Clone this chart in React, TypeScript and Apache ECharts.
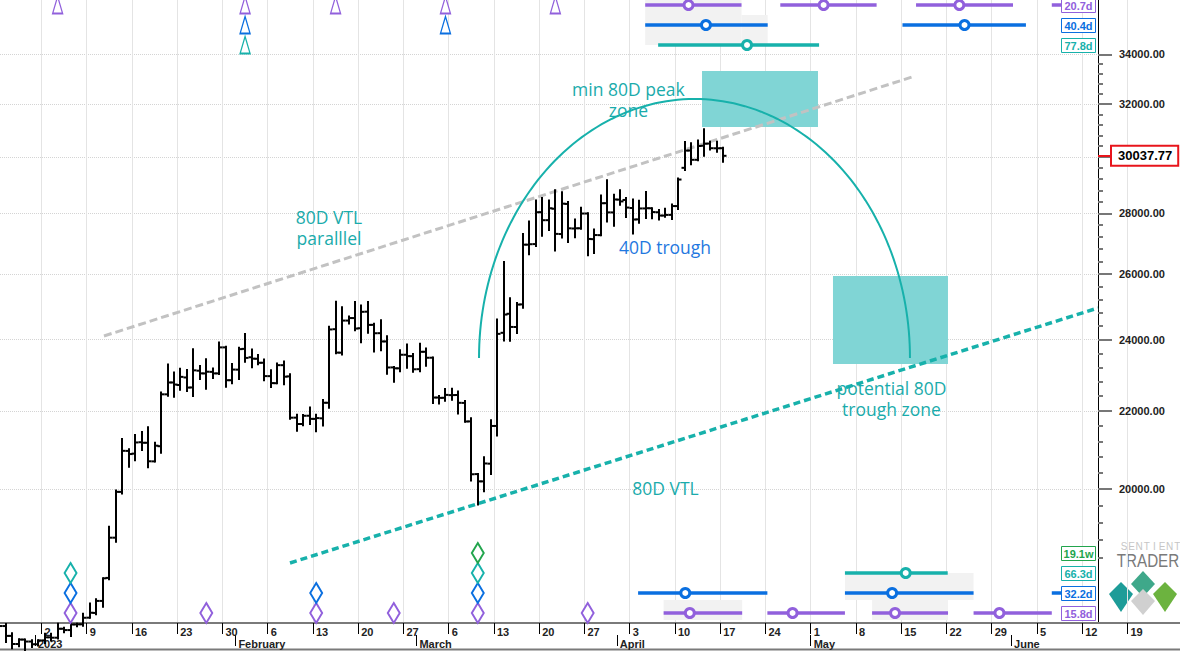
import React, { useEffect, useRef } from "react";
import * as echarts from "echarts";

// ---------------- price bars (daily, first bar 2022-12-26) ----------------
// day numbers are counted from 2023-01-01 (= day 0)
const FIRST_BAR_DAY = -6;
const OPEN = [
  16842, 16919, 16717, 16552, 16642, 16602, 16547, 16625, 16688, 16680, 16863, 16836, 16952, 16955,
  17093, 17192, 17446, 17943, 18846, 19930, 20952, 20882, 21175, 21161, 20686, 21072, 22450, 22777, 22707, 22917, 22639, 23107, 23030, 23074, 23031, 23774, 22840,
  23137, 23731, 23489, 23446, 23332, 22954, 22757, 23263, 22947, 21820, 21651, 21871, 21787, 21802, 22220, 24308, 23621, 24565, 24640, 24336, 24833, 24437, 24190, 23947, 23200, 23174, 23561, 23521,
  23150, 23647, 23476, 22362, 22355, 22428, 22431, 22216, 21720, 20367, 20187, 20628, 21600, 24201, 24770, 24373, 25055, 26950, 26969, 28041, 27768, 28158, 27302, 28324, 27487, 27495, 27994, 27132, 27265, 28350, 28032,
  28473, 28462, 28183, 27795, 28169, 28175, 28038, 27925, 27948, 28250, 29600, 30231, 29892, 30409, 30490, 30315, 30318,
];
const HIGH = [
  16920, 16963, 16773, 16651, 16643, 16629, 16630, 16760, 16760, 16965, 16884, 17042, 16965, 17176,
  17389, 17484, 17934, 19099, 19964, 21259, 20994, 21360, 21438, 21564, 21163, 22500, 23282, 23056, 23165, 23127, 23722, 23237, 23430, 23166, 23919, 23789, 23299,
  23764, 24167, 23715, 23556, 23423, 23117, 23310, 23367, 23005, 21895, 21891, 22090, 21898, 22293, 24380, 25134, 24970, 24685, 25127, 25020, 25126, 24472, 24572, 24103, 23212, 23689, 23857, 23585,
  23880, 23739, 23479, 22405, 22599, 22603, 22527, 22268, 21802, 20370, 20792, 21750, 24600, 26386, 25240, 25100, 27300, 27725, 28440, 28527, 28439, 28803, 28729, 28388, 27792, 28194, 28000, 27457, 28619, 29159, 28639,
  28802, 28529, 28474, 28433, 28739, 28178, 28111, 28159, 28300, 29220, 30550, 30500, 30600, 31030, 30560, 30555, 30330,
];
const LOW = [
  16791, 16592, 16468, 16508, 16360, 16490, 16521, 16572, 16622, 16663, 16791, 16714, 16914, 16925,
  17093, 17162, 17321, 17911, 18753, 19889, 20551, 20715, 20978, 20541, 20685, 20906, 22412, 22387, 22575, 22544, 22406, 22872, 22600, 22904, 23012, 22657, 22755,
  22877, 23363, 23204, 23291, 22841, 22654, 22756, 22731, 21789, 21474, 21619, 21650, 21460, 21615, 22082, 23602, 23569, 24481, 24274, 23927, 24200, 23658, 23693, 23018, 22797, 23088, 23191, 23077,
  23088, 23245, 22213, 22198, 22276, 22304, 21929, 21708, 20210, 19628, 19945, 20367, 21350, 23976, 23964, 24193, 24955, 26636, 26907, 27243, 27439, 26760, 27183, 27040, 27196, 27475, 26606, 26678, 27259, 27720, 27583,
  28297, 27872, 27323, 27682, 27844, 27835, 27794, 27884, 27807, 28150, 29520, 29726, 29878, 30044, 30267, 30184, 29820,
];
const CLOSE = [
  16919, 16717, 16552, 16642, 16602, 16547, 16625, 16688, 16680, 16863, 16836, 16951, 16955, 17091,
  17196, 17446, 17934, 18846, 19930, 20954, 20871, 21169, 21161, 20688, 21086, 22450, 22777, 22720, 22934, 22636, 23117, 23032, 23078, 23031, 23774, 22840, 23139,
  23723, 23471, 23449, 23331, 22955, 22760, 23264, 22939, 21819, 21651, 21870, 21788, 21808, 22220, 24300, 23623, 24565, 24641, 24327, 24829, 24436, 24188, 23947, 23198, 23175, 23561, 23522, 23147,
  23646, 23475, 22362, 22353, 22435, 22429, 22219, 21718, 20363, 20187, 20633, 21600, 24170, 24746, 24375, 25050, 26950, 26965, 28038, 27767, 28175, 27307, 28333, 27493, 27494, 27994, 27139, 27268, 28348, 28033, 28478,
  28411, 28199, 27790, 28168, 28177, 28044, 27925, 27947, 28250, 29180, 30230, 29892, 30399, 30485, 30318, 30315, 30037.77,
];
const LAST_PRICE = 30037.77;

// ---------------- axes ----------------
const WEEK_TICKS = [1, 8, 15, 22, 29, 36, 43, 50, 57, 64, 71, 78, 85, 92, 99, 106, 113, 120, 127, 134, 141, 148, 155, 162, 169];
const MONTH_TICKS = [0, 31, 59, 90, 120, 151];
const MONTH_LABELS = ["2023", "February", "March", "April", "May", "June"];
const PRICE_MAJOR_TICKS = [20000, 22000, 24000, 26000, 28000, 30000, 32000, 34000];
const PRICE_LABELS = [20000, 22000, 24000, 26000, 28000, 32000, 34000];
const PRICE_MINOR_TICKS = [
  18400, 18800, 19200, 19600, 20400, 20800, 21200, 21600, 22400, 22800, 23200, 23600, 24400, 24800, 25200, 25600,
  26400, 26800, 27200, 27600, 28400, 28800, 29200, 29600, 30400, 30800, 31200, 31600, 32400, 32800, 33200, 33600,
];
const VIEW_START_DAY = -5.415;
const VIEW_END_DAY = 177.135;
const PRICE_MIN = 16982;
const PRICE_MAX = 36330;

// ---------------- trend lines / zones / arc ----------------
const VTL_PARALLEL = [[10.67, 24107], [135.67, 33070]];
const VTL_80D = [[39.45, 18273], [164.45, 24946]];
// [startDay, endDay, lowPrice, highPrice]
const ZONES = [
  [103.19, 121.13, 31114, 33314],
  [123.45, 141.24, 23296, 25938],
];
const ARC_START_DAY = 68.69;
const ARC_END_DAY = 135.36;
const ARC_BASE_PRICE = 23468;
const ARC_PEAK_PRICE = 32194;

// ---------------- text notes ----------------
const NOTE_TEXT = ["min 80D peak\nzone", "80D VTL\nparalllel", "potential 80D\ntrough zone", "80D VTL", "40D trough"];
const NOTE_DAY = [91.8, 45.48, 132.5, 97.54, 97.46];
const NOTE_PRICE = [32176, 27522, 22336, 20024, 26874];
const NOTE_IS_BLUE = [false, false, false, false, true];

// ---------------- cycle rows (lanes: 0 = bottom of plot) ----------------
const LANE_TOP_PURPLE = 30.9;
const LANE_TOP_BLUE = 29.9;
const LANE_TOP_TEAL = 28.9;
const LANE_BOT_GREEN = 3.5;
const LANE_BOT_TEAL = 2.5;
const LANE_BOT_BLUE = 1.5;
const LANE_BOT_PURPLE = 0.5;

// [startDay, endDay, markerDay|null]
const TOP_PURPLE_CYCLE = [[94.4, 109.3, 101.1], [115.3, 130.2, 122.0], [136.3, 151.3, 143.0], [157.3, 162.5, null]];
const TOP_BLUE_CYCLE = [[94.4, 113.35, 103.8], [134.2, 153.3, 143.8]];
const TOP_TEAL_CYCLE = [[96.4, 121.3, 110.15]];
const BOT_TEAL_CYCLE = [[125.3, 141.2, 134.7]];
const BOT_BLUE_CYCLE = [[93.3, 113.3, 100.6], [125.3, 145.2, 132.6], [157.3, 162.5, null]];
const BOT_PURPLE_CYCLE = [[97.25, 109.4, 101.3], [113.3, 125.3, 117.2], [129.5, 141.25, 133.05], [145.2, 157.3, 149.2]];
// [startDay, endDay, laneLow, laneHigh]
const CYCLE_SHADES = [
  [94.4, 109.3, 28.9, 31.2],
  [109.3, 113.35, 28.9, 30.4],
  [97.25, 109.4, 0.15, 1.15],
  [125.3, 145.2, 1.15, 2.5],
  [129.5, 141.25, 0.15, 1.15],
];
const CYCLE_LABEL_TEXT = ["20.7d", "40.4d", "77.8d", "19.1w", "66.3d", "32.2d", "15.8d"];
const CYCLE_LABEL_LANE = [LANE_TOP_PURPLE, LANE_TOP_BLUE, LANE_TOP_TEAL, LANE_BOT_GREEN, LANE_BOT_TEAL, LANE_BOT_BLUE, LANE_BOT_PURPLE];

// signal markers (day numbers)
const TRI_PURPLE = [3, 32, 46, 63, 80];
const TRI_BLUE = [32, 63];
const TRI_TEAL = [32];
const DIA_PURPLE = [5, 26, 43, 55, 68, 85];
const DIA_BLUE = [5, 43, 68];
const DIA_TEAL = [5, 68];
const DIA_GREEN = [68];

const PURPLE = "#9160dc";
const BLUE = "#0a6fe0";
const TEAL = "#17b1ab";
const GREEN = "#22a54d";
const NOTE_TEAL = "#1aabab";
const NOTE_BLUE = "#1f78e0";
const CYCLE_LABEL_COLOR = [PURPLE, BLUE, TEAL, GREEN, TEAL, BLUE, PURPLE];

const W = 1180;
const PLOT_RIGHT = 1098;
const PLOT_BOTTOM = 623;
const LABEL_FONT = "Liberation Sans";

function buildOption(): any {
  const axisEndDay = VIEW_START_DAY + ((VIEW_END_DAY - VIEW_START_DAY) * PLOT_RIGHT) / W;
  const bars = OPEN.map((o, i) => [FIRST_BAR_DAY + i + 0.5, o, HIGH[i], LOW[i], CLOSE[i]]);

  const dayOfMonth = (d: number) => new Date(Date.UTC(2023, 0, 1 + Math.round(d))).getUTCDate();

  const cycleRow = (segs: any[], lane: number, color: string) => ({
    type: "custom",
    xAxisIndex: 0,
    yAxisIndex: 3,
    silent: true,
    z: 4,
    data: segs.map((s) => [s[0], lane, s[1], s[2] == null ? NaN : s[2]]),
    encode: { x: 0, y: 1 },
    renderItem: (params: any, api: any) => {
      const a = api.coord([api.value(0), api.value(1)]);
      const b = api.coord([api.value(2), api.value(1)]);
      const m = api.value(3);
      const children: any[] = [
        { type: "line", shape: { x1: a[0], y1: a[1], x2: b[0], y2: b[1] }, style: { stroke: color, lineWidth: 3.5 } },
      ];
      if (!isNaN(m)) {
        const c = api.coord([m, api.value(1)]);
        children.push({ type: "circle", shape: { cx: c[0], cy: c[1], r: 4.5 }, style: { fill: "#fff", stroke: color, lineWidth: 3 } });
      }
      return { type: "group", children };
    },
  });

  const marker = (days: number[], lane: number, color: string, symbol: string, size: number[]) => ({
    type: "scatter",
    xAxisIndex: 0,
    yAxisIndex: 3,
    silent: true,
    symbol,
    symbolSize: size,
    z: 6,
    data: days.map((d) => [d + 0.5, lane]),
    itemStyle: { color: "#fff", borderColor: color, borderWidth: symbol === "diamond" ? 2 : 1.5, opacity: 1 },
  });

  const series: any[] = [
    {
      type: "line",
      xAxisIndex: 0,
      yAxisIndex: 0,
      data: VTL_PARALLEL,
      symbol: "none",
      silent: true,
      z: 2,
      lineStyle: { color: "#c2c2c2", width: 3, type: [8, 4] },
    },
    {
      type: "line",
      xAxisIndex: 0,
      yAxisIndex: 0,
      data: VTL_80D,
      symbol: "none",
      silent: true,
      z: 2,
      lineStyle: { color: TEAL, width: 3.5, type: [7, 4] },
    },
    {
      type: "custom",
      xAxisIndex: 0,
      yAxisIndex: 0,
      silent: true,
      z: 2,
      data: ZONES,
      encode: { x: [0, 1], y: [2, 3] },
      renderItem: (params: any, api: any) => {
        const p0 = api.coord([api.value(0), api.value(3)]);
        const p1 = api.coord([api.value(1), api.value(2)]);
        return {
          type: "rect",
          shape: { x: p0[0], y: p0[1], width: p1[0] - p0[0], height: p1[1] - p0[1] },
          style: { fill: "#80d5d5" },
        };
      },
    },
    {
      type: "custom",
      xAxisIndex: 0,
      yAxisIndex: 0,
      silent: true,
      z: 3,
      data: [[ARC_START_DAY, ARC_BASE_PRICE, ARC_END_DAY, ARC_PEAK_PRICE]],
      encode: { x: [0, 2], y: [1, 3] },
      renderItem: (params: any, api: any) => {
        const p0 = api.coord([api.value(0), api.value(1)]);
        const p1 = api.coord([api.value(2), api.value(1)]);
        const pk = api.coord([(api.value(0) + api.value(2)) / 2, api.value(3)]);
        const cx = (p0[0] + p1[0]) / 2;
        const rx = (p1[0] - p0[0]) / 2;
        const cy = p0[1];
        const ry = cy - pk[1];
        const pts: number[][] = [];
        for (let i = 0; i <= 120; i++) {
          const t = Math.PI - (Math.PI * i) / 120;
          pts.push([cx + rx * Math.cos(t), cy - ry * Math.sin(t)]);
        }
        return { type: "polyline", shape: { points: pts }, style: { stroke: TEAL, lineWidth: 2, fill: null } };
      },
    },
    {
      type: "custom",
      xAxisIndex: 0,
      yAxisIndex: 0,
      silent: true,
      z: 5,
      clip: false,
      data: bars,
      encode: { x: 0, y: [1, 2, 3, 4] },
      renderItem: (params: any, api: any) => {
        const x = api.value(0);
        const o = api.coord([x, api.value(1)]);
        const h = api.coord([x, api.value(2)]);
        const l = api.coord([x, api.value(3)]);
        const c = api.coord([x, api.value(4)]);
        const px = Math.round(o[0]);
        const st = { stroke: "#000", lineWidth: 2 };
        return {
          type: "group",
          children: [
            { type: "line", shape: { x1: px, y1: h[1] - 1, x2: px, y2: l[1] + 1 }, style: st },
            { type: "line", shape: { x1: px - 3.5, y1: o[1], x2: px, y2: o[1] }, style: st },
            { type: "line", shape: { x1: px, y1: c[1], x2: px + 3.5, y2: c[1] }, style: st },
          ],
        };
      },
    },
    {
      type: "custom",
      xAxisIndex: 0,
      yAxisIndex: 0,
      silent: true,
      z: 7,
      data: NOTE_DAY.map((d, i) => [d, NOTE_PRICE[i]]),
      encode: { x: 0, y: 1 },
      renderItem: (params: any, api: any) => {
        const p = api.coord([api.value(0), api.value(1)]);
        const i = params.dataIndex;
        const lines = NOTE_TEXT[i].split("\n");
        const lh = 21;
        return {
          type: "group",
          children: lines.map((ln, k) => ({
            type: "text",
            style: {
              text: ln,
              x: p[0],
              y: p[1] + (k - (lines.length - 1) / 2) * lh,
              align: "center",
              verticalAlign: "middle",
              font: '17.5px "Open Sans"',
              lineHeight: 18,
              fill: NOTE_IS_BLUE[i] ? NOTE_BLUE : NOTE_TEAL,
            },
          })),
        };
      },
    },
    {
      type: "custom",
      xAxisIndex: 0,
      yAxisIndex: 3,
      silent: true,
      z: 1,
      data: CYCLE_SHADES,
      encode: { x: [0, 1], y: [2, 3] },
      renderItem: (params: any, api: any) => {
        const p0 = api.coord([api.value(0), api.value(3)]);
        const p1 = api.coord([api.value(1), api.value(2)]);
        return {
          type: "rect",
          shape: { x: p0[0], y: p0[1], width: p1[0] - p0[0], height: p1[1] - p0[1] },
          style: { fill: "#f2f2f2" },
        };
      },
    },
    cycleRow(TOP_PURPLE_CYCLE, LANE_TOP_PURPLE, PURPLE),
    cycleRow(TOP_BLUE_CYCLE, LANE_TOP_BLUE, BLUE),
    cycleRow(TOP_TEAL_CYCLE, LANE_TOP_TEAL, TEAL),
    cycleRow(BOT_TEAL_CYCLE, LANE_BOT_TEAL, TEAL),
    cycleRow(BOT_BLUE_CYCLE, LANE_BOT_BLUE, BLUE),
    cycleRow(BOT_PURPLE_CYCLE, LANE_BOT_PURPLE, PURPLE),
    {
      type: "custom",
      xAxisIndex: 0,
      yAxisIndex: 3,
      silent: true,
      z: 8,
      clip: false,
      data: CYCLE_LABEL_LANE.map((l) => [0, l]),
      encode: { x: 0, y: 1 },
      renderItem: (params: any, api: any) => {
        const i = params.dataIndex;
        const cs = params.coordSys;
        const c = api.coord([0, api.value(1)]);
        const right = cs.x + cs.width - 2.5;
        const w = 34;
        const h = 14;
        const col = CYCLE_LABEL_COLOR[i];
        return {
          type: "group",
          children: [
            { type: "rect", shape: { x: right - w, y: Math.round(c[1] - h / 2) + 0.5, width: w, height: h }, style: { fill: "#fff", stroke: col, lineWidth: 1 } },
            {
              type: "text",
              style: { text: CYCLE_LABEL_TEXT[i], x: right - w / 2, y: c[1] + 1, align: "center", verticalAlign: "middle", font: `bold 11px "${LABEL_FONT}"`, fill: col },
            },
          ],
        };
      },
    },
    marker(TRI_PURPLE, LANE_TOP_PURPLE, PURPLE, "triangle", [10, 17]),
    marker(TRI_BLUE, LANE_TOP_BLUE, BLUE, "triangle", [10, 17]),
    marker(TRI_TEAL, LANE_TOP_TEAL, TEAL, "triangle", [10, 17]),
    marker(DIA_PURPLE, LANE_BOT_PURPLE, PURPLE, "diamond", [12, 20]),
    marker(DIA_BLUE, LANE_BOT_BLUE, BLUE, "diamond", [12, 20]),
    marker(DIA_TEAL, LANE_BOT_TEAL, TEAL, "diamond", [12, 20]),
    marker(DIA_GREEN, LANE_BOT_GREEN, GREEN, "diamond", [12, 20]),
  ];

  const axisText = { fontFamily: LABEL_FONT, fontSize: 11, fontWeight: "bold", color: "#222" };

  // logo (decoration)
  const sentient = "SENTIENT".split("").map((ch, i) => ({
    type: "text",
    silent: true,
    style: { text: ch, x: 1124 + i * 7.6, y: 546, align: "center", verticalAlign: "middle", font: '10px "Liberation Sans"', fill: "#c6c6c6" },
  }));

  return {
    animation: false,
    backgroundColor: "#fff",
    grid: [
      { left: 0, top: 0, width: PLOT_RIGHT, height: PLOT_BOTTOM, containLabel: false, outerBoundsMode: "none" },
      { left: 0, top: 0, width: W, height: PLOT_BOTTOM, containLabel: false, outerBoundsMode: "none" },
    ],
    xAxis: [
      { gridIndex: 0, type: "value", min: VIEW_START_DAY, max: axisEndDay, show: false, position: "bottom", axisLine: { onZero: false } },
      {
        gridIndex: 1,
        type: "value",
        min: VIEW_START_DAY,
        max: VIEW_END_DAY,
        position: "bottom",
        axisLine: { show: true, onZero: false, lineStyle: { color: "#7a7a7a", width: 2 } },
        axisTick: { show: true, customValues: WEEK_TICKS, length: 11, lineStyle: { color: "#000", width: 1 } },
        axisLabel: {
          show: true,
          customValues: WEEK_TICKS,
          formatter: (v: number) => String(dayOfMonth(v)),
          align: "left",
          margin: 3,
          padding: [0, 0, 0, 3],
          hideOverlap: false,
          ...axisText,
        },
        splitLine: { show: true, lineStyle: { color: "#e4e4e4", width: 1 } },
        minorTick: { show: false },
      },
      {
        gridIndex: 1,
        type: "value",
        min: VIEW_START_DAY,
        max: VIEW_END_DAY,
        position: "bottom",
        offset: 12,
        axisLine: { show: false, onZero: false },
        axisTick: { show: true, customValues: MONTH_TICKS, length: 11, lineStyle: { color: "#000", width: 1 } },
        axisLabel: {
          show: true,
          customValues: MONTH_TICKS,
          formatter: (v: number) => MONTH_LABELS[MONTH_TICKS.indexOf(Math.round(v))] || "",
          align: "left",
          margin: 3,
          padding: [0, 0, 0, 3],
          hideOverlap: false,
          ...axisText,
        },
        splitLine: { show: false },
      },
    ],
    yAxis: [
      {
        gridIndex: 0,
        type: "log",
        logBase: 10,
        min: PRICE_MIN,
        max: PRICE_MAX,
        position: "right",
        axisLine: { show: true, onZero: false, lineStyle: { color: "#000", width: 1 } },
        axisTick: { show: true, customValues: PRICE_MAJOR_TICKS, length: 14, lineStyle: { color: "#777", width: 2 } },
        axisLabel: {
          show: true,
          customValues: PRICE_LABELS,
          formatter: (v: number) => v.toFixed(2),
          margin: 21,
          hideOverlap: false,
          ...axisText,
        },
        splitLine: { show: true, lineStyle: { color: "#d4d4d4", width: 1, type: "dotted" } },
        minorTick: { show: false },
      },
      {
        gridIndex: 0,
        type: "log",
        logBase: 10,
        min: PRICE_MIN,
        max: PRICE_MAX,
        position: "right",
        axisLine: { show: false, onZero: false },
        axisTick: { show: true, customValues: PRICE_MINOR_TICKS, length: 5, lineStyle: { color: "#777", width: 2 } },
        axisLabel: { show: false },
        splitLine: { show: false },
      },
      {
        gridIndex: 0,
        type: "log",
        logBase: 10,
        min: PRICE_MIN,
        max: PRICE_MAX,
        position: "right",
        axisLine: { show: false, onZero: false },
        axisTick: { show: true, customValues: [LAST_PRICE], length: 14, lineStyle: { color: "#e8141b", width: 2 } },
        axisLabel: {
          show: true,
          customValues: [LAST_PRICE],
          formatter: () => LAST_PRICE.toFixed(2),
          margin: 14,
          fontFamily: LABEL_FONT,
          fontSize: 13,
          fontWeight: "bold",
          color: "#000",
          borderColor: "#e8141b",
          borderWidth: 2,
          padding: [3, 5, 2, 6],
          backgroundColor: "#fff",
          hideOverlap: false,
        },
        splitLine: { show: false },
        z: 9,
      },
      { gridIndex: 0, type: "value", min: 0, max: 31.15, show: false, position: "left", axisLine: { onZero: false } },
      { gridIndex: 1, type: "value", min: 0, max: 1, show: false, position: "left", axisLine: { onZero: false } },
    ],
    graphic: [
      { type: "line", shape: { x1: 0, y1: 649.5, x2: W, y2: 649.5 }, style: { stroke: "#7a7a7a", lineWidth: 2 }, silent: true },
      ...sentient,
      {
        type: "text",
        silent: true,
        x: 1148,
        y: 560,
        scaleX: 0.8,
        style: { text: "TRADER", x: 0, y: 0, align: "center", verticalAlign: "middle", font: '19px "Liberation Sans"', fill: "#7a7a7a" },
      },
      { type: "polygon", shape: { points: [[1109, 594], [1121, 582], [1133, 594], [1121, 612]] }, style: { fill: "#1d9c98" }, silent: true },
      { type: "polygon", shape: { points: [[1131, 584], [1143, 571], [1155, 584], [1143, 597]] }, style: { fill: "#3fa88a" }, silent: true },
      { type: "polygon", shape: { points: [[1131, 601], [1143, 589], [1155, 601], [1143, 615]] }, style: { fill: "#d0d0d0" }, silent: true },
      { type: "polygon", shape: { points: [[1153, 594], [1165, 582], [1177, 594], [1165, 612]] }, style: { fill: "#6cb33f" }, silent: true },
    ],
    series,
  };
}

export default function App() {
  const ref = useRef<HTMLDivElement>(null);
  useEffect(() => {
    if (!ref.current) return;
    const chart = echarts.init(ref.current, undefined, { renderer: "svg" });
    chart.setOption(buildOption());
    return () => chart.dispose();
  }, []);
  return (
    <div
      ref={ref}
      style={{ position: "fixed", left: 0, top: 0, width: 1180, height: 651, background: "#fff" }}
    />
  );
}
